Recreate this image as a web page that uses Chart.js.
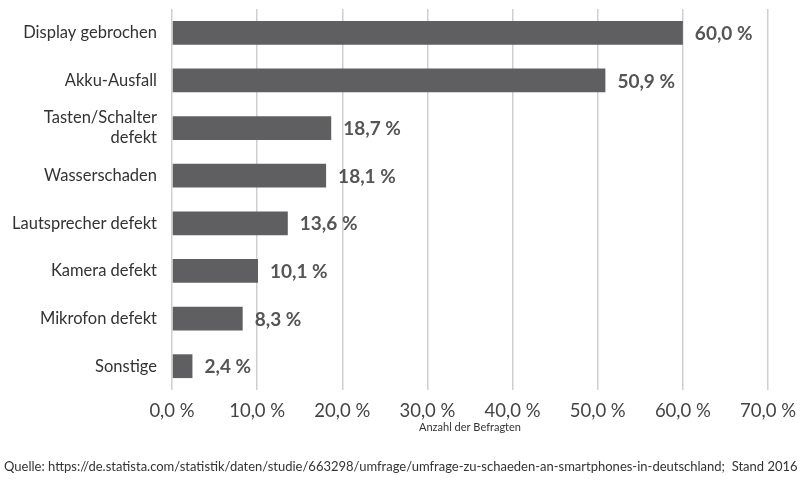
<!DOCTYPE html>
<html><head><meta charset="utf-8">
<script src="https://cdn.jsdelivr.net/npm/chart.js@4"></script>
<style>html,body{margin:0;padding:0;background:#fff}#w{width:800px;height:480px}</style>
</head><body><div id="w"><canvas id="c"></canvas></div>
<script>
const categories = ["Display gebrochen","Akku-Ausfall",["Tasten/Schalter","defekt"],"Wasserschaden","Lautsprecher defekt","Kamera defekt","Mikrofon defekt","Sonstige"];
const values = [60.0,50.9,18.7,18.1,13.6,10.1,8.3,2.4];
const source = "Quelle: https://de.statista.com/statistik/daten/studie/663298/umfrage/umfrage-zu-schaeden-an-smartphones-in-deutschland;  Stand 2016";
const fmt = v => v.toFixed(1).replace('.', ',') + ' %';
const FONT = "Lato, 'Open Sans', sans-serif";
const labelsPlugin = {
  id: 'lbl',
  afterDatasetsDraw(chart) {
    const ctx = chart.ctx, meta = chart.getDatasetMeta(0);
    ctx.save();
    ctx.font = "bold 19px " + FONT; ctx.fillStyle = "#555"; ctx.textBaseline = "middle";
    meta.data.forEach((b, i) => ctx.fillText(fmt(values[i]), b.x + 12, b.y + 1));
    ctx.font = "13px " + FONT; ctx.fillStyle = "#333";
    ctx.fillText(source, 4, 467);
    ctx.restore();
  }
};
new Chart(document.getElementById('c'), {
  type: 'bar',
  data: { labels: categories, datasets: [{ data: values, backgroundColor: '#5f5f61', barPercentage: 0.5, categoryPercentage: 1 }] },
  options: {
    indexAxis: 'y', responsive: true, maintainAspectRatio: false, animation: false,
    layout: { padding: { top: 9, right: 32, bottom: 42, left: 0 } },
    plugins: { legend: { display: false }, tooltip: { enabled: false } },
    scales: {
      x: { min: 0, max: 70, grid: { color: '#cfcfcf', lineWidth: 1.5, drawTicks: false }, border: { display: false },
        ticks: { stepSize: 10, padding: 10, color: '#444', font: { size: 18.5, family: FONT }, callback: v => fmt(v) },
        title: { display: true, text: 'Anzahl der Befragten', color: '#333', font: { size: 11, family: FONT }, padding: { top: 0 } },
        afterFit: s => { s.height = 48; s.paddingLeft = 0; s.paddingRight = 0; } },
      y: { grid: { display: false }, border: { display: false },
        ticks: { color: '#333', font: { size: 16.5, family: FONT }, padding: 7, lineHeight: 1.15 },
        afterFit: s => { s.width = 172; s.paddingTop = 0; s.paddingBottom = 0; } }
    }
  },
  plugins: [labelsPlugin]
});
</script></body></html>
